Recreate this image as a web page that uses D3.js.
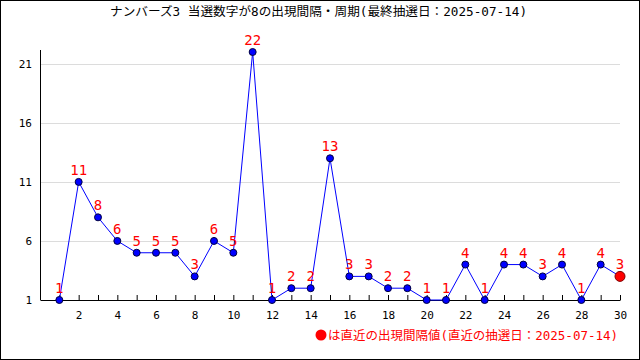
<!DOCTYPE html>
<html>
<head>
<meta charset="utf-8">
<script src="https://cdn.jsdelivr.net/npm/d3@7"></script>
<style>
  body { margin: 0; background: #fff; }
  svg text { font-family: "DejaVu Sans Mono", "Noto Sans CJK JP", monospace; }
</style>
</head>
<body>
<div id="graph"></div>
<script>
// Data
const draws = d3.range(1, 31);
const intervals = [1, 11, 8, 6, 5, 5, 5, 3, 6, 5, 22, 1, 2, 2, 13, 3, 3, 2, 2, 1, 1, 4, 1, 4, 4, 3, 4, 1, 4, 3];
const yTicks = [1, 6, 11, 16, 21];
const xTicks = [2, 4, 6, 8, 10, 12, 14, 16, 18, 20, 22, 24, 26, 28, 30];
const titleText = "ナンバーズ3 当選数字が8の出現間隔・周期(最終抽選日：2025-07-14)";
const noteText = "は直近の出現間隔値(直近の抽選日：2025-07-14)";

const width = 640;
const height = 360;

const svg = d3.select("#graph")
    .append("svg")
    .attr("width", width)
    .attr("height", height);

// Frame
svg.append("rect")
    .attr("x", 0.5).attr("y", 0.5)
    .attr("width", width - 1).attr("height", height - 1)
    .attr("fill", "#fff")
    .attr("stroke", "#000");

// Scales
const x = d3.scaleLinear().domain([0, 30]).range([40, 620]);
const y = d3.scaleLinear().domain([1, 22]).range([300, 52]);

// Grid lines
svg.append("g")
    .selectAll("line")
    .data(yTicks.filter(d => d > 1))
    .join("line")
    .attr("x1", 40).attr("x2", 620)
    .attr("y1", d => Math.round(y(d)) + 0.5)
    .attr("y2", d => Math.round(y(d)) + 0.5)
    .attr("stroke", "#dcdcdc");

// Axes
const xAxis = d3.axisBottom(x)
    .tickValues(draws)
    .tickSize(-5)
    .tickFormat(d => xTicks.includes(d) ? d : "");

svg.append("g")
    .attr("transform", "translate(0,300)")
    .call(xAxis)
    .call(g => g.select(".domain").attr("d", "M40.5,0.5H620.5").attr("stroke", "#000"))
    .call(g => g.selectAll("text").attr("font-size", 11).attr("fill", "#000").attr("dy", "1.45em"));

svg.append("line")
    .attr("x1", 40.5).attr("x2", 40.5)
    .attr("y1", 50).attr("y2", 300)
    .attr("stroke", "#000");

svg.append("g")
    .selectAll("text")
    .data(yTicks)
    .join("text")
    .attr("x", 32)
    .attr("y", d => y(d))
    .attr("dy", "0.35em")
    .attr("text-anchor", "end")
    .attr("font-size", 11)
    .text(d => d);

// Line
const pts = draws.map((d, i) => ({ n: d, v: intervals[i] }));
svg.append("path")
    .datum(pts)
    .attr("fill", "none")
    .attr("stroke", "#0000ff")
    .attr("stroke-width", 1)
    .attr("d", d3.line().x(d => x(d.n)).y(d => y(d.v)));

// Points
svg.append("g")
    .selectAll("circle")
    .data(pts)
    .join("circle")
    .attr("cx", d => x(d.n))
    .attr("cy", d => y(d.v))
    .attr("r", (d, i) => i === pts.length - 1 ? 5 : 3.5)
    .attr("fill", (d, i) => i === pts.length - 1 ? "#ff0000" : "#0000ff")
    .attr("stroke", (d, i) => i === pts.length - 1 ? "#800000" : "#000040")
    .attr("stroke-width", 1);

// Value labels
svg.append("g")
    .selectAll("text")
    .data(pts)
    .join("text")
    .attr("x", d => x(d.n))
    .attr("y", d => y(d.v) - 7)
    .attr("text-anchor", "middle")
    .attr("font-size", 14)
    .attr("fill", "#ff0000")
    .text(d => d.v);

// Title
svg.append("text")
    .attr("x", 110)
    .attr("y", 16)
    .attr("font-size", 12)
    .attr("textLength", 417)
    .attr("lengthAdjust", "spacingAndGlyphs")
    .text(titleText);

// Note
svg.append("circle")
    .attr("cx", 321)
    .attr("cy", 335)
    .attr("r", 5.5)
    .attr("fill", "#ff0000");

svg.append("text")
    .attr("x", 328)
    .attr("y", 340)
    .attr("font-size", 12)
    .attr("fill", "#ff0000")
    .attr("textLength", 290)
    .attr("lengthAdjust", "spacingAndGlyphs")
    .text(noteText);
</script>
</body>
</html>
